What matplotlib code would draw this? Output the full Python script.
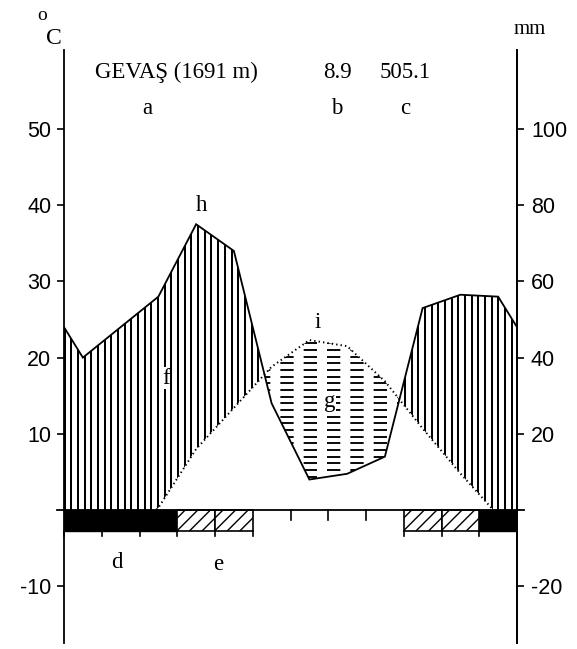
import numpy as np
import matplotlib
matplotlib.use("Agg")
import matplotlib.pyplot as plt
from matplotlib.path import Path
from matplotlib.patches import Rectangle

# ---------------- data ----------------
months = ["Jan", "Feb", "Mar", "Apr", "May", "Jun", "Jul", "Aug", "Sep", "Oct", "Nov", "Dec"]
temperature = [-4.5, -4.5, 0.3, 8.0, 13.4, 18.8, 22.3, 21.5, 16.9, 10.7, 4.8, -0.7]   # deg C
precipitation = [40, 48, 56, 75, 68, 28, 8, 9.5, 14, 53, 56.5, 56]                    # mm
# frost: 2 = certain frost (black), 1 = probable frost (hatched), 0 = none
frost = [2, 2, 2, 1, 1, 0, 0, 0, 0, 1, 1, 2]
station = "GEVAŞ (1691 m)"
mean_temp = "8.9"
annual_precip = "505.1"
left_ticks = [-10, 10, 20, 30, 40, 50]
right_ticks = [-20, 20, 40, 60, 80, 100]

plt.rcParams["axes.unicode_minus"] = False
plt.rcParams["lines.scale_dashes"] = False

W, H = 577, 649
fig = plt.figure(figsize=(W / 100, H / 100), dpi=100)

# axes geometry in pixels
ax_l, ax_r, ax_t, ax_b = 64, 517, 50, 643
zero_px, px_per_deg = 510, 7.62
ymax = (zero_px - ax_t) / px_per_deg
ymin = (zero_px - ax_b) / px_per_deg
ax = fig.add_axes([ax_l / W, 1 - ax_b / H, (ax_r - ax_l) / W, (ax_b - ax_t) / H])
ax.set_xlim(0, 12)
ax.set_ylim(ymin, ymax)
month_px = (ax_r - ax_l) / 12

# curve arrays with wrap-around edges
t = np.array(temperature, float)
p = np.array(precipitation, float) / 2.0     # 20 mm <-> 10 deg C
xc = np.arange(12) + 0.5
xe = np.concatenate([[0], xc, [12]])
te = np.concatenate([[(t[0] + t[-1]) / 2], t, [(t[0] + t[-1]) / 2]])
pe = np.concatenate([[(p[0] + p[-1]) / 2], p, [(p[0] + p[-1]) / 2]])

# regions (geometry only for clipping)
xd = np.linspace(0, 12, 4801)
pdn = np.interp(xd, xe, pe)
tdn = np.interp(xd, xe, te)
low = np.maximum(tdn, 0)
humid = ax.fill_between(xd, low, pdn, where=pdn >= low, interpolate=True,
                        facecolor="none", edgecolor="none")
arid = ax.fill_between(xd, pdn, tdn, where=tdn > pdn, interpolate=True,
                       facecolor="none", edgecolor="none")
humid_path = Path.make_compound_path(*humid.get_paths())
arid_path = Path.make_compound_path(*arid.get_paths())

# vertical hatch (humid)
step = 6.67 / month_px
vx = np.arange(0.02, 12, step)
vl = ax.vlines(vx, -1, ymax, color="black", lw=1.45)
vl.set_clip_path(humid_path, ax.transData)

# horizontal dashes (arid)
hy = np.arange(1, 60) * (6.67 / px_per_deg)
x0 = (280 - ax_l) / month_px - 0.618
hl = ax.hlines(hy, x0, 12, color="black", lw=1.35, linestyles=[(0, (9.6, 7.2))])
hl.set_clip_path(arid_path, ax.transData)

# precipitation line
ax.plot(xe, pe, color="black", lw=1.3, solid_joinstyle="miter")
# temperature line (dotted), shown above zero only
tl, = ax.plot(xe, te, color="black", lw=1.4, linestyle=(0, (1.0, 2.2)))
clip_rect = Rectangle((0, 0), 12, ymax, transform=ax.transData)
tl.set_clip_path(clip_rect)

# frost bar
bar_h = 2.7
for i, f in enumerate(frost):
    if f == 2:
        ax.bar(xc[i], -bar_h, width=1, bottom=0, color="black", edgecolor="black", lw=1.0)
    elif f == 1:
        b = ax.bar(xc[i], -bar_h, width=1, bottom=0, color="white", edgecolor="black", lw=1.2, zorder=3)
        patch = b.patches[0]
        dx = bar_h * px_per_deg / month_px
        sp = 12.6 / month_px
        for k in range(-3, 5):
            xs = i + k * sp
            ln, = ax.plot([xs, xs + dx], [-bar_h, 0], color="black", lw=1.0, zorder=4)
            ln.set_clip_path(patch)

# month boundary ticks
for j in range(13):
    left_f = frost[j - 1] if j > 0 else 0
    right_f = frost[j] if j < 12 else 0
    if left_f or right_f:
        ax.plot([j, j], [-bar_h, -bar_h - 0.7], color="black", lw=1.2, clip_on=False)
    else:
        ax.plot([j, j], [0, -1.3], color="black", lw=1.2, clip_on=False)

# zero line
ax.plot([-0.19, 12.19], [0, 0], color="black", lw=1.3, clip_on=False, zorder=5)

# spines / ticks
for s in ["top", "bottom"]:
    ax.spines[s].set_visible(False)
for s in ["left", "right"]:
    ax.spines[s].set_linewidth(1.3)
ax.set_xticks([])
ax.set_yticks(left_ticks)
ax.tick_params(axis="y", direction="out", length=5, width=1.2, pad=4,
               labelsize=15.5, labelfontfamily="Liberation Sans")

ax2 = ax.twinx()
ax2.set_ylim(2 * ymin, 2 * ymax)
ax2.set_yticks(right_ticks)
for s in ["top", "bottom", "left"]:
    ax2.spines[s].set_visible(False)
ax2.spines["right"].set_linewidth(1.3)
ax2.tick_params(axis="y", direction="out", length=5, width=1.2, pad=5,
                labelsize=15.5, labelfontfamily="Liberation Sans")

# texts
serif = "Liberation Serif"
def ftext(x, y, s, size=16.5, **kw):
    fig.text(x / W, 1 - y / H, s, fontsize=size, family=serif, ha="center", va="center", **kw)

ftext(42, 16, "o", size=14)
ftext(54, 38, "C", size=17)
ftext(530, 30, "mm", size=15)
ftext(176, 72, station)
ftext(337, 72, mean_temp)
ftext(405, 72, annual_precip)
ftext(147, 108, "a")
ftext(337, 108, "b")
ftext(405, 108, "c")
ftext(202, 206, "h")
ftext(166, 378, "f", bbox=dict(facecolor="white", edgecolor="none", pad=0.3))
ftext(318, 323, "i")
ftext(330, 402, "g", bbox=dict(facecolor="white", edgecolor="none", pad=0.3))
ftext(117, 563, "d")
ftext(218, 565, "e")

fig.savefig("out.png", dpi=100)
